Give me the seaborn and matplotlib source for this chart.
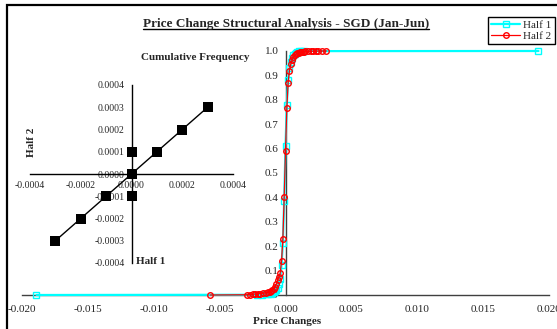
import matplotlib
matplotlib.use("Agg")
import matplotlib.pyplot as plt
import seaborn as sns
import numpy as np
import pandas as pd
from matplotlib.lines import Line2D
from matplotlib.patches import Rectangle
from matplotlib.ticker import MultipleLocator, FormatStrFormatter

# ---------------- data ----------------
half1_x = [-0.0189, -0.0022, -0.0018, -0.0015, -0.0013, -0.0011, -0.0010, -0.0009,
           -0.0008, -0.0007, -0.0006, -0.0005, -0.0004, -0.0003, -0.0002, -0.0001,
           0.0, 0.0001, 0.0002, 0.0003, 0.0004, 0.0005, 0.0006, 0.0007, 0.0008,
           0.0009, 0.0010, 0.0012, 0.0014, 0.0192]
half1_y = [0.0, 0.001, 0.002, 0.003, 0.004, 0.006, 0.008, 0.011,
           0.015, 0.021, 0.030, 0.045, 0.065, 0.125, 0.215, 0.385,
           0.61, 0.78, 0.88, 0.93, 0.955, 0.972, 0.982, 0.989, 0.993,
           0.996, 0.998, 0.999, 0.9995, 1.0]

half2_x = [-0.0057, -0.0029, -0.0027, -0.0025, -0.0023, -0.0021, -0.0019, -0.0017,
           -0.0015, -0.0013, -0.0012, -0.0011, -0.0010, -0.0009, -0.0008, -0.0007,
           -0.0006, -0.0005, -0.0004, -0.0003, -0.0002, -0.0001, 0.0, 0.0001,
           0.0002, 0.0003, 0.0004, 0.0005, 0.0006, 0.0007, 0.0008, 0.0009, 0.0010,
           0.0011, 0.0012, 0.0013, 0.0014, 0.0015, 0.0017, 0.0019, 0.0021, 0.0023,
           0.0025, 0.0028, 0.0031]
half2_y = [0.0, 0.001, 0.002, 0.003, 0.004, 0.005, 0.006, 0.007,
           0.009, 0.011, 0.013, 0.016, 0.020, 0.026, 0.034, 0.045,
           0.060, 0.075, 0.090, 0.14, 0.23, 0.40, 0.59, 0.765,
           0.87, 0.92, 0.945, 0.963, 0.975, 0.982, 0.987, 0.990, 0.992,
           0.994, 0.995, 0.996, 0.997, 0.998, 0.9985, 0.999, 0.9993, 0.9995,
           0.9997, 0.9999, 1.0]

# inset quantile comparison (Half 1 vs Half 2)
q_half1 = [-0.0003, -0.0002, -0.0001, 0.0, 0.0, 0.0, 0.0001, 0.0002, 0.0003]
q_half2 = [-0.0003, -0.0002, -0.0001, -0.0001, 0.0, 0.0001, 0.0001, 0.0002, 0.0003]
ref_line = [-0.0003, 0.0003]

x_ticks = [-0.020, -0.015, -0.010, -0.005, 0.000, 0.005, 0.010, 0.015, 0.020]
title = "Price Change Structural Analysis - SGD (Jan-Jun)"

# ---------------- style ----------------
sns.set_style("white")
plt.rcParams["font.family"] = ["Liberation Serif", "DejaVu Serif"]
plt.rcParams["axes.unicode_minus"] = False

W, H = 557, 329
fig = plt.figure(figsize=(W / 100, H / 100), dpi=100)
fig.patch.set_facecolor("white")

def fx(px):
    return px / W

def fy(py):
    return 1 - py / H

# outer frame
fig.patches.append(Rectangle((fx(7), fy(335)), 1.2, fy(5) - fy(335), transform=fig.transFigure,
                             fill=False, edgecolor="black", linewidth=1.6, zorder=0))

# ---------------- main axes ----------------
ax = fig.add_axes([fx(22), fy(295), fx(549) - fx(22), fy(51) - fy(295)])
ax.set_facecolor("none")
df1 = pd.DataFrame({"x": half1_x, "y": half1_y})
df2 = pd.DataFrame({"x": half2_x, "y": half2_y})
sns.lineplot(data=df1, x="x", y="y", ax=ax, sort=False, estimator=None, color="#00FFFF",
             linewidth=1.6, marker="s", markersize=4.5, markerfacecolor="none",
             markeredgecolor="#00FFFF", markeredgewidth=1.0, clip_on=False, zorder=3)
sns.lineplot(data=df2, x="x", y="y", ax=ax, sort=False, estimator=None, color="#FF0000",
             linewidth=0.9, marker="o", markersize=4.0, markerfacecolor="none",
             markeredgecolor="#FF0000", markeredgewidth=1.0, clip_on=False, zorder=4)
ax.set_xlim(-0.020, 0.020)
ax.set_ylim(0, 1.0)
for s in ["top", "right"]:
    ax.spines[s].set_visible(False)
ax.spines["left"].set_position(("data", 0))
ax.spines["bottom"].set_position(("data", 0))
for s in ["left", "bottom"]:
    ax.spines[s].set_color("#404040")
    ax.spines[s].set_linewidth(1.0)
    ax.spines[s].set_zorder(2)
ax.set_xticks(x_ticks)
ax.xaxis.set_major_formatter(FormatStrFormatter("%.3f"))
ax.xaxis.set_minor_locator(MultipleLocator(0.0025))
ax.yaxis.set_major_locator(MultipleLocator(0.1))
ax.yaxis.set_minor_locator(MultipleLocator(0.05))
ax.yaxis.set_major_formatter(FormatStrFormatter("%.1f"))
ax.tick_params(axis="both", which="major", direction="inout", length=6, width=1.0,
               color="#404040", labelsize=8, pad=2)
ax.tick_params(axis="both", which="minor", direction="inout", length=4, width=0.8,
               color="#404040")
ax.tick_params(axis="x", pad=4)
ax.set_xlabel("")
ax.set_ylabel("")
fig.text(fx(287), fy(321), "Price Changes", ha="center", va="center",
         fontsize=8, fontweight="bold")

# legend
handles = [Line2D([], [], color="#00FFFF", linewidth=1.6, marker="s", markersize=4.5,
                  markerfacecolor="none", markeredgecolor="#00FFFF"),
           Line2D([], [], color="#FF0000", linewidth=0.9, marker="o", markersize=4.0,
                  markerfacecolor="none", markeredgecolor="#FF0000")]
leg = fig.legend(handles, ["Half 1", "Half 2"], loc="upper right",
                 bbox_to_anchor=(fx(555), fy(17)), fontsize=8, frameon=True,
                 fancybox=False, edgecolor="black", framealpha=1, borderpad=0.3,
                 labelspacing=0.1, handlelength=2.6, handletextpad=0.3,
                 borderaxespad=0)
leg.get_frame().set_linewidth(1.0)

# ---------------- inset ----------------
ins = fig.add_axes([fx(30), fy(263), fx(233) - fx(30), fy(85) - fy(263)])
ins.set_facecolor("none")
sns.lineplot(x=ref_line, y=ref_line, ax=ins, color="black", linewidth=1.0, zorder=3)
sns.scatterplot(x=q_half1, y=q_half2, ax=ins, marker="s", s=42, color="black",
                edgecolor="black", linewidth=0, zorder=4, clip_on=False)
ins.set_xlim(-0.0004, 0.0004)
ins.set_ylim(-0.0004, 0.0004)
for s in ["top", "right"]:
    ins.spines[s].set_visible(False)
ins.spines["left"].set_position(("data", 0))
ins.spines["bottom"].set_position(("data", 0))
for s in ["left", "bottom"]:
    ins.spines[s].set_color("black")
    ins.spines[s].set_linewidth(1.0)
ins.xaxis.set_major_locator(MultipleLocator(0.0002))
ins.yaxis.set_major_locator(MultipleLocator(0.0001))
ins.xaxis.set_major_formatter(FormatStrFormatter("%.4f"))
ins.yaxis.set_major_formatter(FormatStrFormatter("%.4f"))
ins.tick_params(axis="both", which="major", direction="out", length=3, width=0.8,
                labelsize=7, pad=2)
ins.set_xlabel("")
ins.set_ylabel("")
fig.text(fx(195), fy(57), "Cumulative Frequency", ha="center", va="center",
         fontsize=8, fontweight="bold")
fig.text(fx(32), fy(142), "Half 2", ha="center", va="center", rotation=90,
         fontsize=8, fontweight="bold")
fig.text(fx(136), fy(261), "Half 1", ha="left", va="center",
         fontsize=8, fontweight="bold")

# ---------------- title with underline ----------------
t = fig.text(fx(286), fy(24), title, ha="center", va="center", fontsize=9.5,
             fontweight="bold")
fig.canvas.draw()
bb = t.get_window_extent(renderer=fig.canvas.get_renderer())
inv = fig.transFigure.inverted()
(x0, y0), (x1, y1) = inv.transform([(bb.x0, bb.y0), (bb.x1, bb.y0)])
fig.lines.append(Line2D([x0, x1], [y0 + 0.003, y0 + 0.003], transform=fig.transFigure,
                        color="black", linewidth=1.0))

fig.savefig("out.png", dpi=100)
